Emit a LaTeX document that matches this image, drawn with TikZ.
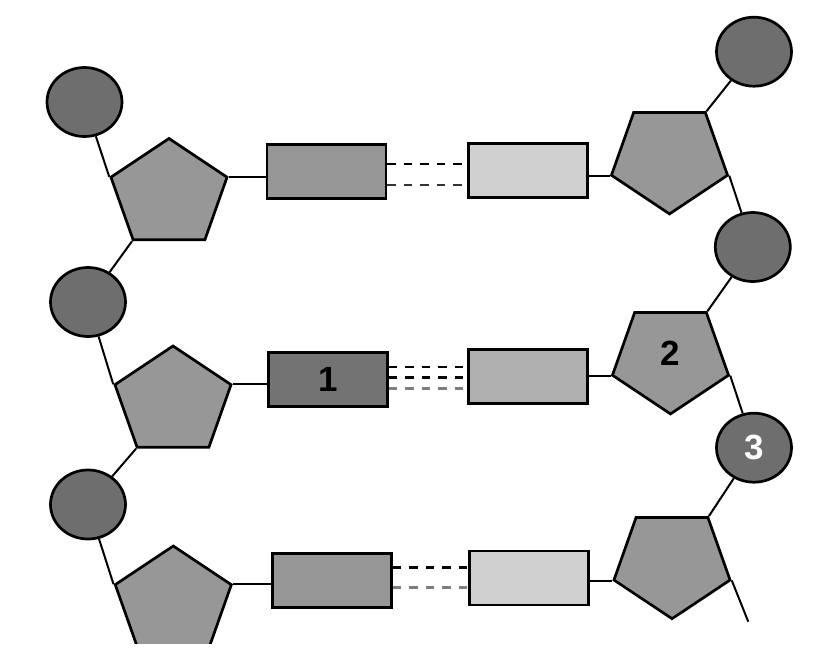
\documentclass[tikz,border=0pt]{standalone}
\usepackage{fontspec}
\setmainfont{Liberation Sans}
\usetikzlibrary{shapes.geometric}

\definecolor{phosgray}{HTML}{6E6E6E}
\definecolor{sugargray}{HTML}{979797}
\definecolor{midgray}{HTML}{969696}
\definecolor{darkbase}{HTML}{737373}
\definecolor{lightbase}{HTML}{D0D0D0}
\definecolor{palebase}{HTML}{B0B0B0}
\definecolor{bondgray}{HTML}{7E7E7E}

\begin{document}
\begin{tikzpicture}[x=1pt,y=-1pt,
    phosphate/.style={ellipse,draw,line width=2.7pt,fill=phosgray,minimum width=75pt,minimum height=69pt,inner sep=0pt},
    sugar/.style={regular polygon,regular polygon sides=5,draw,line width=2.7pt,fill=sugargray,minimum size=112pt,inner sep=0pt,xscale=1.09},
    sugar down/.style={sugar,shape border rotate=180},
    basebox/.style={rectangle,draw,line width=2.7pt,minimum width=119pt,minimum height=54pt,inner sep=0pt},
    link/.style={line width=2pt},
    hbond/.style={line width=2.8pt,dash pattern=on 8.5pt off 8pt},
    numlabel/.style={font=\bfseries\fontsize{35}{35}\selectfont}]

  \useasboundingbox (0,0) rectangle (823,659);
  \clip (0,0) rectangle (823,643);

  % left strand
  \node[phosphate] (p1) at (84.5,102) {};
  \node[sugar] (s1) at (169,194.5) {};
  \node[basebox,fill=midgray] (b1) at (326.5,171.5) {};
  \node[phosphate] (p2) at (88,302) {};
  \node[sugar] (s2) at (173,402) {};
  \node[basebox,fill=darkbase,numlabel] (b2) at (328,379.5) {1};
  \node[phosphate] (p3) at (88,504.5) {};
  \node[sugar] (s3) at (173.3,602) {};
  \node[basebox,fill=midgray] (b3) at (331.7,580.5) {};

  % right strand
  \node[phosphate] (q1) at (754,51.7) {};
  \node[sugar down] (t1) at (669.5,157.9) {};
  \node[basebox,fill=lightbase] (c1) at (527.7,170.2) {};
  \node[phosphate] (q2) at (752.8,247) {};
  \node[sugar down] (t2) at (670.5,357.9) {};
  \node[numlabel] (n2) at ([yshift=5pt]t2.center) {2};
  \node[basebox,fill=palebase] (c2) at (527.7,376.7) {};
  \node[phosphate,numlabel,text=white] (q3) at (754,447.7) {3};
  \node[sugar down] (t3) at (672,562.7) {};
  \node[basebox,fill=lightbase] (c3) at (528.8,578) {};
  \coordinate (tail) at (748.3,621.7);

  \path[link]
    (p1) edge (s1.corner 2)
    (s1.corner 3) edge (p2)
    (p2) edge (s2.corner 2)
    (s2.corner 3) edge (p3)
    (p3) edge (s3.corner 2)
    (s1.corner 5) edge (s1.corner 5 -| b1.west)
    (s2.corner 5) edge (s2.corner 5 -| b2.west)
    (s3.corner 5) edge (s3.corner 5 -| b3.west)
    (q1) edge (t1.corner 3)
    (t1.corner 2) edge (q2)
    (q2) edge (t2.corner 3)
    (t2.corner 2) edge (q3)
    (q3) edge (t3.corner 3)
    (t3.corner 2) edge (tail)
    (t1.corner 5) edge (t1.corner 5 -| c1.east)
    (t2.corner 5) edge (t2.corner 5 -| c2.east)
    (t3.corner 5) edge (t3.corner 5 -| c3.east);

  % hydrogen bonds
  \draw[hbond] (b1.east |- 0,164) -- (c1.west |- 0,164);
  \draw[hbond,black!80] (b1.east |- 0,185) -- (c1.west |- 0,185);
  \draw[hbond] (b2.east |- 0,367) -- (c2.west |- 0,367);
  \draw[hbond] (b2.east |- 0,377.7) -- (c2.west |- 0,377.7);
  \draw[hbond,bondgray] (b2.east |- 0,388.3) -- (c2.west |- 0,388.3);
  \draw[hbond] (b3.east |- 0,567.3) -- (c3.west |- 0,567.3);
  \draw[hbond,bondgray] (b3.east |- 0,587.7) -- (c3.west |- 0,587.7);
\end{tikzpicture}
\end{document}
